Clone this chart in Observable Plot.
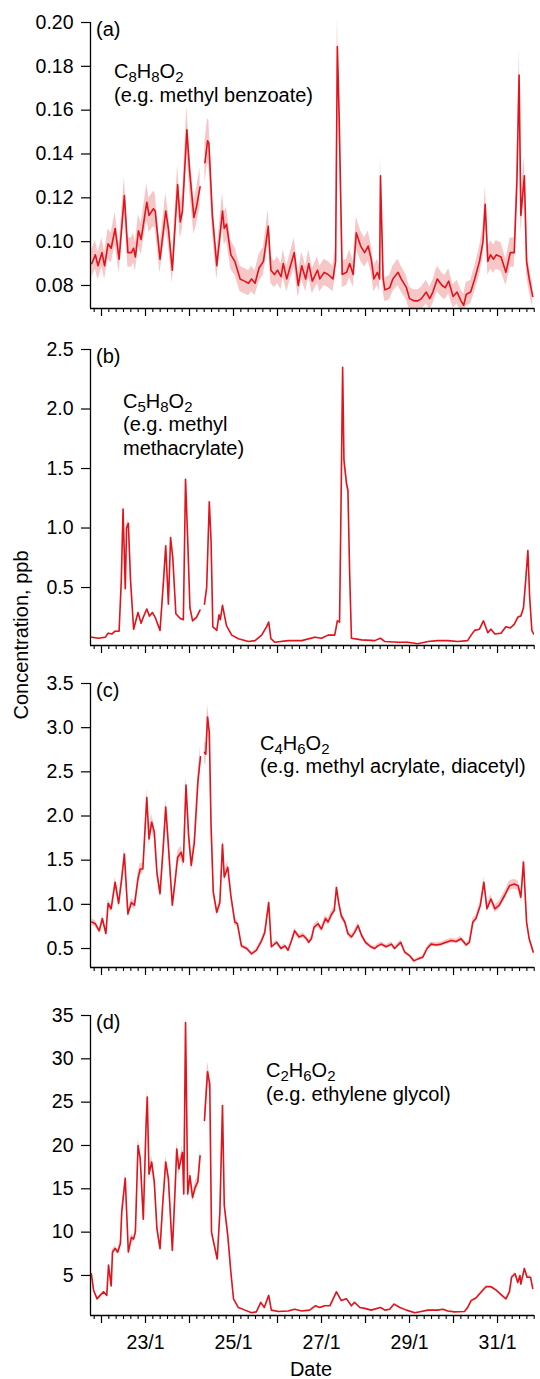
<!DOCTYPE html>
<html><head><meta charset="utf-8">
<script src="https://cdn.jsdelivr.net/npm/d3@7"></script>
<script src="https://cdn.jsdelivr.net/npm/@observablehq/plot@0.6"></script>
<style>
body{margin:0;background:#fff;}
#root{position:relative;width:540px;height:1379px;font-family:"Liberation Sans",Arial,sans-serif;}
.panel{position:absolute;left:0;}
#overlay{position:absolute;left:0;top:0;pointer-events:none;}
</style></head><body><div id="root"></div>
<script>
// ---- data: [day of January (fractional), concentration ppb] ----
const seriesA = [[21.78,0.090],[21.86,0.094],[21.92,0.089],[22.01,0.095],[22.07,0.089],[22.15,0.099],[22.22,0.097],[22.31,0.106],[22.40,0.092],[22.52,0.121],[22.60,0.095],[22.68,0.095],[22.73,0.097],[22.77,0.093],[22.84,0.105],[22.90,0.101],[23.03,0.118],[23.08,0.112],[23.18,0.115],[23.22,0.114],[23.33,0.092],[23.46,0.114],[23.52,0.106],[23.61,0.087],[23.73,0.126],[23.79,0.109],[23.84,0.114],[23.94,0.151],[24.00,0.133],[24.10,0.111],[24.16,0.116],[24.24,0.125],[24.30,null],[24.35,0.136],[24.41,0.146],[24.44,0.145],[24.52,0.112],[24.62,0.089],[24.75,0.114],[24.79,0.106],[24.84,0.108],[24.94,0.094],[25.03,0.091],[25.15,0.083],[25.25,0.082],[25.34,0.081],[25.41,0.083],[25.49,0.081],[25.58,0.088],[25.68,0.091],[25.79,0.107],[25.85,0.087],[25.93,0.085],[26.00,0.087],[26.08,0.084],[26.13,0.090],[26.21,0.083],[26.28,0.088],[26.38,0.095],[26.47,0.080],[26.55,0.089],[26.64,0.083],[26.71,0.090],[26.79,0.082],[26.91,0.087],[26.96,0.083],[27.06,0.086],[27.15,0.085],[27.26,0.083],[27.32,0.091],[27.36,0.189],[27.40,0.158],[27.47,0.085],[27.57,0.086],[27.64,0.090],[27.72,0.085],[27.79,0.104],[27.89,0.098],[27.98,0.095],[28.06,0.098],[28.13,0.092],[28.19,0.083],[28.27,0.086],[28.32,0.083],[28.34,0.130],[28.40,0.083],[28.44,0.078],[28.55,0.079],[28.62,0.083],[28.74,0.086],[28.81,0.083],[28.93,0.079],[29.00,0.074],[29.10,0.073],[29.19,0.073],[29.27,0.074],[29.38,0.077],[29.46,0.074],[29.53,0.077],[29.63,0.083],[29.74,0.080],[29.81,0.079],[29.89,0.082],[29.99,0.075],[30.08,0.077],[30.17,0.073],[30.23,0.071],[30.29,0.076],[30.39,0.077],[30.48,0.083],[30.59,0.091],[30.67,0.100],[30.72,0.117],[30.78,0.091],[30.84,0.094],[30.91,0.092],[30.97,0.094],[31.08,0.093],[31.19,0.086],[31.29,0.095],[31.38,0.095],[31.44,0.127],[31.49,0.176],[31.53,0.112],[31.61,0.130],[31.66,0.091],[31.72,0.083],[31.80,0.075]];

const seriesB = [[21.78,0.083],[21.93,0.074],[22.09,0.083],[22.15,0.116],[22.24,0.11],[22.31,0.133],[22.40,0.133],[22.45,0.56],[22.49,1.16],[22.54,0.49],[22.57,1.0],[22.61,1.04],[22.66,0.56],[22.73,0.15],[22.83,0.29],[22.90,0.2],[22.95,0.25],[23.03,0.32],[23.09,0.26],[23.16,0.29],[23.22,0.25],[23.33,0.14],[23.41,0.56],[23.46,0.85],[23.52,0.36],[23.57,0.92],[23.62,0.75],[23.69,0.28],[23.79,0.24],[23.86,0.23],[23.91,1.41],[23.96,0.89],[24.01,0.33],[24.07,0.22],[24.16,0.25],[24.24,0.31],[24.29,null],[24.34,0.36],[24.39,0.50],[24.45,1.22],[24.49,0.89],[24.53,0.17],[24.62,0.14],[24.67,0.27],[24.70,0.23],[24.75,0.35],[24.84,0.18],[24.96,0.10],[25.11,0.07],[25.34,0.046],[25.49,0.054],[25.64,0.10],[25.75,0.17],[25.80,0.21],[25.85,0.07],[25.94,0.04],[26.24,0.054],[26.55,0.054],[26.85,0.083],[27.00,0.074],[27.15,0.10],[27.30,0.10],[27.36,0.22],[27.41,0.21],[27.45,1.40],[27.48,2.35],[27.51,1.57],[27.57,1.37],[27.60,1.32],[27.64,0.61],[27.68,0.074],[27.91,0.06],[28.21,0.054],[28.34,0.074],[28.44,0.046],[28.74,0.04],[28.96,0.04],[29.19,0.027],[29.42,0.046],[29.64,0.054],[29.87,0.054],[30.10,0.046],[30.32,0.054],[30.40,0.10],[30.48,0.14],[30.59,0.15],[30.68,0.22],[30.78,0.12],[30.85,0.15],[30.94,0.11],[31.08,0.116],[31.19,0.17],[31.29,0.16],[31.38,0.19],[31.46,0.25],[31.53,0.26],[31.59,0.33],[31.64,0.56],[31.69,0.81],[31.73,0.42],[31.78,0.14],[31.82,0.11]];

const seriesC = [[21.78,0.80],[21.86,0.78],[21.95,0.70],[22.02,0.84],[22.10,0.67],[22.15,1.01],[22.22,0.95],[22.31,1.25],[22.39,1.01],[22.46,1.29],[22.52,1.57],[22.60,0.89],[22.68,1.02],[22.75,0.99],[22.83,1.29],[22.88,1.40],[22.94,1.40],[23.03,2.21],[23.08,1.74],[23.14,1.93],[23.20,1.82],[23.26,1.36],[23.33,1.12],[23.41,1.70],[23.46,2.10],[23.52,1.67],[23.61,0.99],[23.67,1.25],[23.73,1.53],[23.81,1.59],[23.86,1.48],[23.92,2.35],[23.98,1.78],[24.04,1.44],[24.11,1.70],[24.19,2.38],[24.25,2.67],[24.29,null],[24.34,2.72],[24.37,2.70],[24.41,3.12],[24.45,2.95],[24.49,1.89],[24.54,1.14],[24.62,0.91],[24.69,1.02],[24.75,1.68],[24.79,1.31],[24.87,1.42],[24.94,1.10],[25.03,0.80],[25.09,0.78],[25.18,0.53],[25.30,0.50],[25.41,0.44],[25.52,0.48],[25.64,0.59],[25.71,0.68],[25.80,1.02],[25.86,0.52],[25.98,0.57],[26.08,0.50],[26.17,0.53],[26.24,0.48],[26.32,0.59],[26.39,0.70],[26.49,0.63],[26.58,0.65],[26.66,0.61],[26.71,0.57],[26.77,0.61],[26.83,0.74],[26.92,0.78],[27.00,0.72],[27.09,0.84],[27.15,0.80],[27.23,0.89],[27.29,0.93],[27.34,1.19],[27.39,1.02],[27.45,0.87],[27.53,0.80],[27.60,0.67],[27.68,0.63],[27.75,0.68],[27.83,0.76],[27.91,0.65],[28.00,0.57],[28.12,0.52],[28.21,0.50],[28.28,0.53],[28.36,0.55],[28.47,0.52],[28.59,0.55],[28.66,0.50],[28.80,0.57],[28.89,0.46],[29.00,0.42],[29.10,0.36],[29.19,0.38],[29.30,0.40],[29.40,0.50],[29.49,0.55],[29.61,0.54],[29.72,0.55],[29.83,0.57],[29.95,0.59],[30.06,0.58],[30.17,0.61],[30.29,0.54],[30.36,0.57],[30.44,0.80],[30.51,0.84],[30.61,0.99],[30.69,1.25],[30.76,0.95],[30.85,1.06],[30.94,0.95],[31.04,0.99],[31.16,1.10],[31.27,1.21],[31.38,1.23],[31.47,1.21],[31.53,1.08],[31.59,1.48],[31.66,0.80],[31.72,0.61],[31.81,0.46]];

const seriesD = [[21.77,5.2],[21.82,3.3],[21.90,2.3],[21.97,2.7],[22.05,3.1],[22.12,2.7],[22.16,6.2],[22.22,3.8],[22.25,7.7],[22.31,8.1],[22.37,7.7],[22.43,8.7],[22.46,12.3],[22.54,16.2],[22.61,7.7],[22.68,9.4],[22.73,9.2],[22.77,10.0],[22.83,20.0],[22.88,18.5],[22.95,11.5],[23.01,21.9],[23.04,25.6],[23.08,16.7],[23.14,18.1],[23.20,15.8],[23.26,10.4],[23.33,8.1],[23.39,13.1],[23.46,18.1],[23.52,16.2],[23.61,7.9],[23.67,14.6],[23.71,19.6],[23.76,17.3],[23.84,19.2],[23.87,14.4],[23.91,34.2],[23.96,14.4],[24.01,16.5],[24.07,14.0],[24.13,15.2],[24.19,15.8],[24.24,18.8],[24.29,null],[24.34,22.9],[24.41,28.5],[24.46,27.1],[24.50,10.0],[24.58,8.1],[24.63,6.9],[24.69,12.3],[24.75,24.6],[24.79,13.1],[24.87,9.6],[24.94,5.4],[25.00,2.3],[25.11,1.3],[25.26,1.0],[25.41,0.7],[25.52,0.8],[25.62,1.9],[25.70,1.3],[25.80,2.7],[25.86,1.0],[26.02,0.85],[26.24,0.9],[26.39,1.1],[26.55,0.9],[26.73,1.0],[26.86,1.5],[26.96,1.3],[27.07,1.5],[27.19,1.5],[27.34,3.1],[27.45,2.1],[27.57,2.3],[27.68,1.5],[27.75,1.9],[27.87,1.3],[27.98,1.2],[28.13,1.0],[28.34,1.3],[28.44,1.0],[28.55,1.1],[28.65,1.7],[28.78,1.3],[28.93,1.0],[29.12,0.7],[29.27,0.85],[29.42,1.0],[29.64,1.0],[29.76,1.1],[29.87,0.9],[30.02,0.8],[30.25,0.85],[30.32,1.3],[30.40,2.1],[30.51,2.4],[30.63,3.1],[30.74,3.7],[30.85,3.7],[30.97,3.3],[31.08,2.8],[31.19,2.3],[31.27,3.1],[31.32,4.8],[31.40,5.2],[31.46,4.2],[31.51,5.0],[31.53,4.0],[31.61,5.8],[31.67,4.8],[31.75,4.8],[31.80,3.5]];

// relative measurement uncertainty (shaded band) per panel
const relErr = [0.07, 0.03, 0.045, 0.04];

// axes
const yTicksA = [0.08,0.10,0.12,0.14,0.16,0.18,0.20];
const yTicksB = [0.5,1.0,1.5,2.0,2.5];
const yTicksC = [0.5,1.0,1.5,2.0,2.5,3.0,3.5];
const yTicksD = [5,10,15,20,25,30,35];
const dateTicks = [23,25,27,29,31];
const dateLabels = ["23/1","25/1","27/1","29/1","31/1"];
const dayTicks = [22,23,24,25,26,27,28,29,30,31];
const xDomain = [21.75, 31.84];

const panelLabels = ["(a)","(b)","(c)","(d)"];
const formulas = ["C8H8O2","C5H8O2","C4H6O2","C2H6O2"];
const examples = [["(e.g. methyl benzoate)"],["(e.g. methyl","methacrylate)"],["(e.g. methyl acrylate, diacetyl)"],["(e.g. ethylene glycol)"]];

// layout (pixels)
const layout = [
  {top:0,   plotH:286, mb:12, domain:[0.0695,0.20], ticks:yTicksA, fmt:d3.format(".2f"), tx:24,  ty:56, lh:24},
  {top:327, plotH:296, mb:12, domain:[0.013,2.5],   ticks:yTicksB, fmt:d3.format(".1f"), tx:33,  ty:59, lh:24},
  {top:661, plotH:284, mb:12, domain:[0.285,3.5],   ticks:yTicksC, fmt:d3.format(".1f"), tx:170, ty:67, lh:24},
  {top:993, plotH:300, mb:64, domain:[0.38,35],     ticks:yTicksD, fmt:d3.format("d"),   tx:176, ty:62, lh:25}
];
const series = [seriesA, seriesB, seriesC, seriesD];
const FONT = '"Liberation Sans", Arial, sans-serif';
const RED = "#e0141c";
const mT = 22, mL = 90, mR = 6;

const minorTicks = d3.range(0, 61).map(i => 21.8333333 + i/6).filter(t => t <= 31.84 && Math.abs(t - Math.round(t)) > 0.01);

const root = document.getElementById("root");

function txt(sel, x, y, s, anchor) {
  return sel.append("text").attr("x", x).attr("y", y).attr("text-anchor", anchor || "start")
    .attr("font-family", FONT).attr("font-size", "20px").attr("fill", "#000").text(s);
}

series.forEach((data, k) => {
  const L = layout[k];
  const r = relErr[k];
  const last = k === 3;
  const marks = [
    Plot.areaY(data, {x: d => d[0], y1: d => d[1] == null ? NaN : d[1]*(1-r), y2: d => d[1] == null ? NaN : d[1]*(1+r), fill: "#f2a0a0", fillOpacity: 0.6, clip: true}),
    Plot.lineY(data, {x: d => d[0], y: d => d[1] == null ? NaN : d[1], stroke: RED, strokeWidth: 1.6, clip: true}),
    Plot.axisY(L.ticks, {tickSize: 9, tickPadding: 8, tickFormat: L.fmt, label: null, strokeWidth: 1.2}),
    Plot.axisX(minorTicks, {tickSize: 4, tickFormat: () => "", label: null, strokeWidth: 1.1}),
    Plot.axisX(dayTicks, {tickSize: 8, tickFormat: () => "", label: null, strokeWidth: 1.2}),
    Plot.ruleX([xDomain[0]], {strokeWidth: 1.3}),
    Plot.ruleY([L.domain[0]], {strokeWidth: 1.3})
  ];
  if (last) marks.push(Plot.axisX(dateTicks, {tickSize: 0, tickPadding: 20, tickFormat: d => dateLabels[dateTicks.indexOf(d)], label: null}));
  const svg = Plot.plot({
    width: 540,
    height: mT + L.plotH + L.mb,
    marginTop: mT, marginLeft: mL, marginRight: mR, marginBottom: L.mb,
    style: {fontFamily: FONT, fontSize: "19.5px", color: "#000", background: "transparent", overflow: "visible"},
    x: {domain: xDomain},
    y: {domain: L.domain},
    marks
  });
  const s = d3.select(svg);
  // panel label
  txt(s, mL + 6, mT + 14, panelLabels[k]);
  // formula with subscripts
  const ft = txt(s, mL + L.tx, mT + L.ty, "");
  let sub = false;
  formulas[k].match(/[A-Za-z]+|\d+/g).forEach(p => {
    const t = ft.append("tspan").text(p);
    if (/^\d/.test(p)) { t.attr("font-size", "15px").attr("dy", 4); sub = true; }
    else if (sub) { t.attr("dy", -4); sub = false; }
  });
  examples[k].forEach((line, j) => {
    txt(s, mL + L.tx, mT + L.ty + L.lh*(j+1) - (k===0?0:1), line);
  });
  if (last) txt(s, 311, mT + L.plotH + 61, "Date", "middle");
  const div = document.createElement("div");
  div.className = "panel";
  div.style.top = L.top + "px";
  div.appendChild(svg);
  root.appendChild(div);
});

// shared y-axis title
const ov = d3.select(root).append("svg").attr("id", "overlay").attr("width", 540).attr("height", 1379);
ov.append("text").attr("transform", "translate(28,635) rotate(-90)").attr("text-anchor", "middle")
  .attr("font-family", FONT).attr("font-size", "20px").attr("fill", "#000").text("Concentration, ppb");
</script></body></html>
